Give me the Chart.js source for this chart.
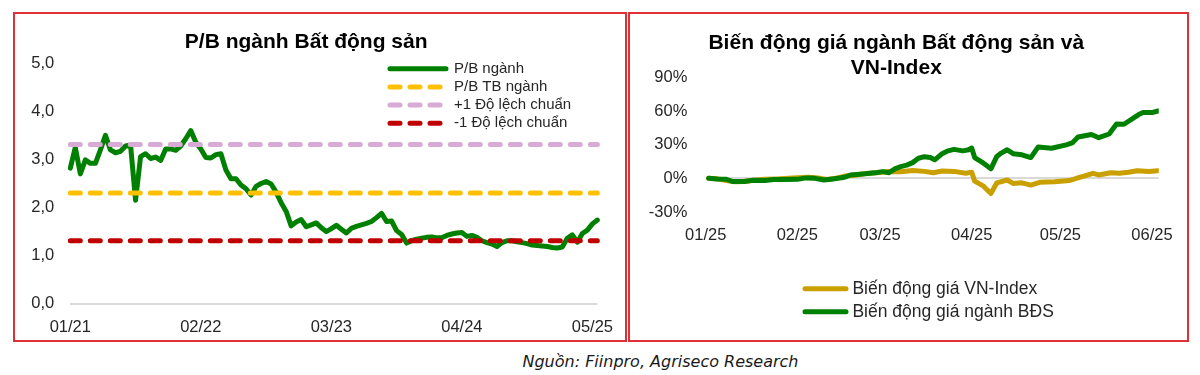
<!DOCTYPE html>
<html>
<head>
<meta charset="utf-8">
<script src="https://cdn.jsdelivr.net/npm/chart.js@4/dist/chart.umd.min.js"></script>
<style>
  html, body { margin: 0; padding: 0; background: #fff; }
  body { width: 1200px; height: 375px; position: relative; overflow: hidden; }
  .panel { position: absolute; box-sizing: border-box; border: 2px solid #e03035; }
  canvas { position: absolute; }
  #source { position: absolute; left: 0; width: 1321px; top: 351px; line-height: 21px; text-align: center;
            font-family: "DejaVu Sans", sans-serif; font-style: italic; font-size: 16px; color: #1a1a1a; }
</style>
</head>
<body>
<div class="panel" style="left:13px;top:12px;width:614px;height:330px;"></div>
<div class="panel" style="left:628px;top:12px;width:561px;height:330px;"></div>
<canvas id="pbChart" width="610" height="326" style="left:15px;top:14px;width:610px;height:326px;"></canvas>
<canvas id="moveChart" width="557" height="326" style="left:630px;top:14px;width:557px;height:326px;"></canvas>
<div id="source">Nguồn: Fiinpro, Agriseco Research</div>
<script>
// ---------------- Left chart data: P/B ngành Bất động sản (semi-monthly) ----------------
const pbTickLabels = ['01/21', '02/22', '03/23', '04/24', '05/25'];
const pbValues = [
  2.82, 3.25, 2.70, 2.99, 2.92, 2.92, 3.20, 3.50, 3.20, 3.14,
  3.17, 3.28, 3.30, 2.15, 3.06, 3.12, 3.02, 3.05, 2.98, 3.22,
  3.22, 3.19, 3.28, 3.43, 3.60, 3.36, 3.22, 3.04, 3.03, 3.10,
  3.12, 2.78, 2.60, 2.60, 2.47, 2.39, 2.26, 2.44, 2.50, 2.54,
  2.49, 2.32, 2.10, 1.92, 1.62, 1.70, 1.75, 1.60, 1.64, 1.68,
  1.58, 1.50, 1.56, 1.63, 1.55, 1.47, 1.57, 1.61, 1.64, 1.67,
  1.71, 1.79, 1.88, 1.71, 1.72, 1.52, 1.44, 1.26, 1.31, 1.34,
  1.36, 1.38, 1.39, 1.37, 1.37, 1.42, 1.45, 1.47, 1.48, 1.40,
  1.42, 1.38, 1.31, 1.27, 1.24, 1.19, 1.27, 1.31, 1.31, 1.29,
  1.27, 1.25, 1.22, 1.21, 1.20, 1.19, 1.17, 1.16, 1.18, 1.36,
  1.43, 1.28, 1.46, 1.53, 1.66, 1.74
];
const pbMean = 2.30;
const pbPlusSD = 3.31;
const pbMinusSD = 1.31;

// category labels: 1st and 15th of each month from 01/2021
const pbDates = [];
for (let yy = 21; pbDates.length < pbValues.length; yy++) {
  for (let m = 1; m <= 12 && pbDates.length < pbValues.length; m++) {
    const mm = String(m).padStart(2, '0');
    pbDates.push('01/' + mm + '/' + yy);
    if (pbDates.length < pbValues.length) pbDates.push('15/' + mm + '/' + yy);
  }
}

// ---------------- Right chart data: price change since 01/2025 (%) ----------------
const idxTickDays = [0, 31, 59, 90, 120, 151];
const idxTickLabels = ['01/25', '02/25', '03/25', '04/25', '05/25', '06/25'];
const vnDays = [1, 4, 7, 10, 13, 17, 20, 24, 28, 31, 35, 38, 41, 44, 47, 51, 54, 58, 62, 66,
  70, 74, 77, 80, 84, 88, 90, 91, 94, 96.5, 98.5, 102, 104, 107, 110, 113, 118, 123, 126, 128,
  131, 133, 137, 140, 143, 146, 150, 153];
const vnValues = [0, -0.5, -2.0, -3.0, -2.8, -1.5, -0.9, -0.5, 0.0, 0.5, 0.9, 0.3, -1.0, 0.0, 2.0, 3.0, 4.3, 5.0, 6.0, 5.8,
  7.0, 6.2, 5.0, 6.5, 6.2, 4.5, 5.5, -2.5, -7.0, -13.5, -4.0, -1.5, -4.5, -4.0, -6.0, -3.5, -3.0, -2.0, 0.5, 2.0,
  4.5, 3.0, 5.0, 4.5, 5.5, 6.8, 6.0, 6.8];
const bdsDays = [1, 4, 7, 9, 13, 16, 20, 23, 27, 31, 34, 37, 40, 43, 47, 49, 54, 58, 60, 62,
  64, 66, 68, 70, 72, 74, 76, 77.5, 80, 82, 84, 87, 89, 90, 91, 94, 96.5, 98.5, 100, 102,
  104, 107, 110, 112.5, 117, 122, 124, 126, 130.5, 133, 136.5, 139, 141.5, 146.5, 148, 151, 153];
const bdsValues = [0, -0.5, -0.8, -2.8, -2.8, -1.8, -2.0, -1.0, -1.0, -0.9, 0.4, 0.0, -1.5, -0.5, 1.0, 3.0, 4.0, 5.2, 6.0, 5.0,
  8.5, 10.5, 11.8, 14.0, 17.9, 19.3, 18.5, 16.5, 22.0, 24.5, 25.8, 24.5, 25.5, 27.0, 18.5, 13.5, 8.5, 19.5, 22.5, 25.5,
  22.0, 21.0, 18.5, 28.0, 26.8, 29.8, 31.5, 36.8, 39.0, 36.2, 39.5, 48.5, 48.2, 56.8, 58.6, 58.6, 60.0];

// ---------------- shared styling ----------------
const FONT = "'Liberation Sans', Arial, sans-serif";
const TICK_COLOR = '#262626';

const lineLegend = {
  id: 'lineLegend',
  afterDraw(chart, args, o) {
    const ctx = chart.ctx;
    ctx.save();
    ctx.font = o.fontSize + 'px ' + FONT;
    ctx.textBaseline = 'middle';
    ctx.textAlign = 'left';
    o.order.forEach((di, k) => {
      const ds = chart.data.datasets[di];
      const y = o.y + k * o.dy;
      ctx.beginPath();
      ctx.lineWidth = o.lineWidth;
      ctx.lineCap = 'round';
      ctx.strokeStyle = ds.borderColor;
      ctx.setLineDash(ds.borderDash || []);
      ctx.moveTo(o.x0, y);
      ctx.lineTo(o.x1, y);
      ctx.stroke();
      ctx.setLineDash([]);
      ctx.fillStyle = o.color;
      ctx.fillText(ds.label, o.textX, y);
    });
    ctx.restore();
  }
};

function zeroGrid(c) { return c.tick && c.tick.value === 0 ? '#d9d9d9' : 'rgba(0,0,0,0)'; }

// ---------------- Left chart ----------------
const firstDate = pbDates[0];
const lastDate = pbDates[pbDates.length - 1];
new Chart(document.getElementById('pbChart'), {
  type: 'line',
  data: {
    labels: pbDates,
    datasets: [
      { label: 'P/B ngành', data: pbValues, borderColor: '#008000', borderWidth: 5,
        pointRadius: 0, tension: 0, borderCapStyle: 'round', borderJoinStyle: 'round', order: 5 },
      { label: 'P/B TB ngành', data: [{ x: firstDate, y: pbMean }, { x: lastDate, y: pbMean }],
        borderColor: '#ffc000', borderWidth: 5, borderDash: [10, 10], borderCapStyle: 'round', pointRadius: 0, order: 3 },
      { label: '+1 Độ lệch chuẩn', data: [{ x: firstDate, y: pbPlusSD }, { x: lastDate, y: pbPlusSD }],
        borderColor: '#d8aad6', borderWidth: 5, borderDash: [10, 10], borderCapStyle: 'round', pointRadius: 0, order: 2 },
      { label: '-1 Độ lệch chuẩn', data: [{ x: firstDate, y: pbMinusSD }, { x: lastDate, y: pbMinusSD }],
        borderColor: '#c00000', borderWidth: 5, borderDash: [10, 10], borderCapStyle: 'round', pointRadius: 0, order: 1 }
    ]
  },
  options: {
    responsive: false, animation: false, devicePixelRatio: 1,
    layout: { padding: { left: 0, right: 27.6, top: 0, bottom: 0 } },
    plugins: {
      legend: { display: false }, tooltip: { enabled: false },
      title: { display: true, text: 'P/B ngành Bất động sản', color: '#000',
               font: { family: FONT, size: 21, weight: 'bold', lineHeight: 1.2 },
               padding: { top: 16.1, bottom: 8.0 } },
      lineLegend: { order: [0, 1, 2, 3], x0: 375, x1: 431, textX: 439, y: 54.7, dy: 18.2,
                    lineWidth: 5, fontSize: 15, color: '#262626' }
    },
    scales: {
      x: {
        type: 'category', offset: false,
        grid: { display: false, drawTicks: false }, border: { display: false },
        ticks: {
          autoSkip: false, maxRotation: 0, minRotation: 0, padding: 14, color: TICK_COLOR,
          font: { family: FONT, size: 16.5 },
          callback: function (value) {
            const lab = this.getLabelForValue(value);
            const mmyy = lab.slice(3);
            return lab.startsWith('01/') && pbTickLabels.includes(mmyy) ? mmyy : '';
          }
        },
        afterFit: (s) => { s.height = 36.3; }
      },
      y: {
        min: 0, max: 5,
        grid: { color: zeroGrid, lineWidth: 2, drawTicks: false }, border: { display: false },
        ticks: { stepSize: 1, padding: 16, color: TICK_COLOR, font: { family: FONT, size: 16.5 },
                 callback: (v) => v.toFixed(1).replace('.', ',') },
        afterFit: (s) => { s.width = 55.3; }
      }
    }
  },
  plugins: [lineLegend]
});

// ---------------- Right chart ----------------
new Chart(document.getElementById('moveChart'), {
  type: 'line',
  data: {
    datasets: [
      { label: 'Biến động giá VN-Index', data: vnDays.map((d, i) => ({ x: d, y: vnValues[i] })),
        borderColor: '#c9a000', borderWidth: 5, pointRadius: 0, tension: 0,
        borderCapStyle: 'round', borderJoinStyle: 'round', order: 2 },
      { label: 'Biến động giá ngành BĐS', data: bdsDays.map((d, i) => ({ x: d, y: bdsValues[i] })),
        borderColor: '#008000', borderWidth: 5, pointRadius: 0, tension: 0,
        borderCapStyle: 'round', borderJoinStyle: 'round', order: 1 }
    ]
  },
  options: {
    responsive: false, animation: false, devicePixelRatio: 1,
    layout: { padding: { left: 0, right: 24.4, top: 0, bottom: 0 } },
    plugins: {
      legend: { display: false }, tooltip: { enabled: false },
      title: { display: true, text: ['Biến động giá ngành Bất động sản và', 'VN-Index'], color: '#000',
               font: { family: FONT, size: 21, weight: 'bold', lineHeight: 1.22 },
               padding: { top: 15.9, bottom: -3.8 } },
      lineLegend: { order: [0, 1], x0: 175, x1: 216, textX: 222.4, y: 274.7, dy: 23,
                    lineWidth: 5, fontSize: 17.5, color: '#262626' }
    },
    scales: {
      x: {
        type: 'linear', min: 0, max: 153.3,
        grid: { display: false, drawTicks: false }, border: { display: false },
        afterBuildTicks: (s) => { s.ticks = idxTickDays.map((v) => ({ value: v })); },
        ticks: { autoSkip: false, maxRotation: 0, minRotation: 0, padding: 14, color: TICK_COLOR,
                 font: { family: FONT, size: 16.5 },
                 callback: (v, i) => idxTickLabels[i] },
        afterFit: (s) => { s.height = 128; }
      },
      y: {
        min: -30, max: 90,
        grid: { color: zeroGrid, lineWidth: 2, drawTicks: false }, border: { display: false },
        ticks: { stepSize: 30, padding: 18.4, color: TICK_COLOR, font: { family: FONT, size: 16.5 },
                 callback: (v) => v + '%' },
        afterFit: (s) => { s.width = 75.7; }
      }
    }
  },
  plugins: [lineLegend]
});
</script>
</body>
</html>
